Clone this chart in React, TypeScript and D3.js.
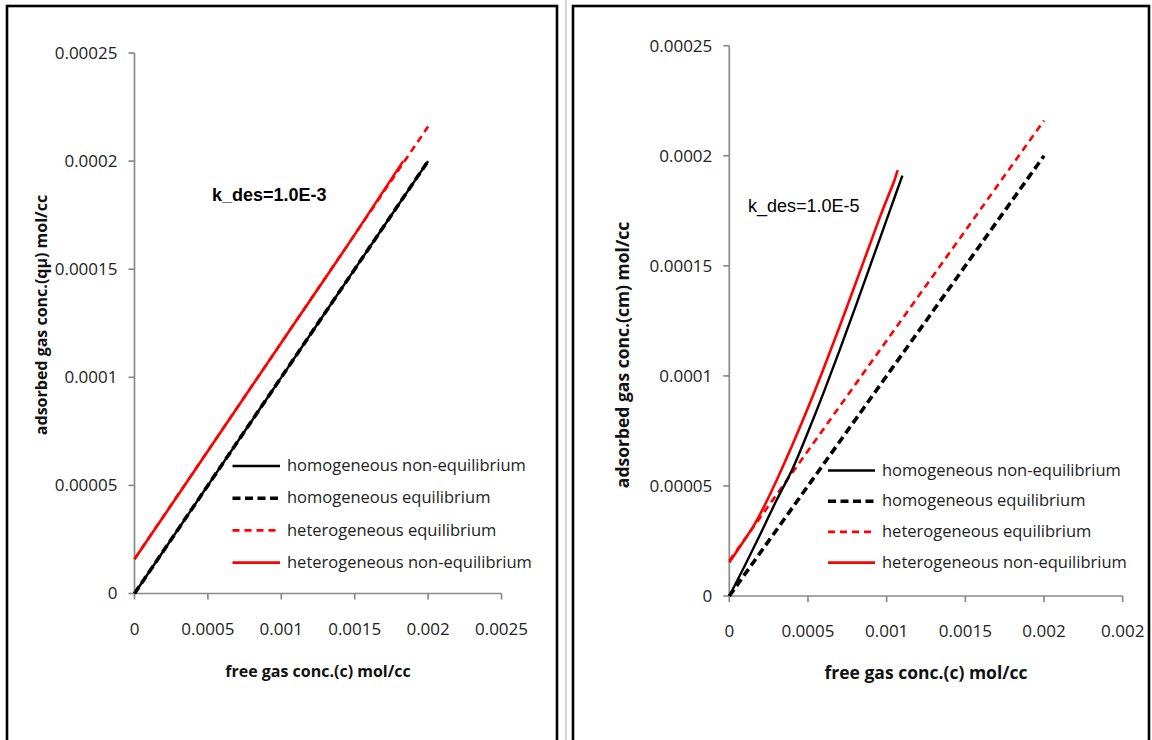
import React from "react";
import * as d3 from "d3";

// ---------- data ----------
const xTickValues = [0, 0.0005, 0.001, 0.0015, 0.002, 0.0025];
const xTickLabelsLeft = ["0", "0.0005", "0.001", "0.0015", "0.002", "0.0025"];
const xTickLabelsRight = ["0", "0.0005", "0.001", "0.0015", "0.002", "0.002"];
const yTickValues = [0, 0.00005, 0.0001, 0.00015, 0.0002, 0.00025];
const yTickLabels = ["0", "0.00005", "0.0001", "0.00015", "0.0002", "0.00025"];

const seriesNames = [
  "homogeneous non-equilibrium",
  "homogeneous equilibrium",
  "heterogeneous equilibrium",
  "heterogeneous non-equilibrium",
];

// Left panel (k_des=1.0E-3)
const leftHomNonEqX = [0, 0.0005, 0.001, 0.0015, 0.002];
const leftHomNonEqY = [0, 0.00005, 0.0001, 0.00015, 0.0002];
const leftHomEqX = [0, 0.0005, 0.001, 0.0015, 0.002];
const leftHomEqY = [0, 0.00005, 0.0001, 0.00015, 0.0002];
const leftHetEqX = [0, 0.0005, 0.001, 0.0015, 0.002];
const leftHetEqY = [0.000016, 0.000066, 0.000116, 0.000166, 0.000216];
const leftHetNonEqX = [0, 0.0005, 0.001, 0.0015, 0.00183];
const leftHetNonEqY = [0.0000158, 0.0000659, 0.000116, 0.000166, 0.0002];

// Right panel (k_des=1.0E-5)
const rightHomNonEqX = [0, 0.0001, 0.0002, 0.0003, 0.0004, 0.0005, 0.0006, 0.0007, 0.0008, 0.0009, 0.00097, 0.00103, 0.00107, 0.0011];
const rightHomNonEqY = [0, 0.000014, 0.0000285, 0.0000435, 0.0000575, 0.0000745, 0.0000925, 0.0001115, 0.000131, 0.000151, 0.000165, 0.000177, 0.000185, 0.000191];
const rightHomEqX = [0, 0.0005, 0.001, 0.0015, 0.002];
const rightHomEqY = [0, 0.00005, 0.0001, 0.00015, 0.0002];
const rightHetEqX = [0, 0.0005, 0.001, 0.0015, 0.002];
const rightHetEqY = [0.000016, 0.000066, 0.000116, 0.000166, 0.000216];
const rightHetNonEqX = [0, 0.00008, 0.00016, 0.00022, 0.0003, 0.0004, 0.0005, 0.0006, 0.0007, 0.0008, 0.0009, 0.00097, 0.00102, 0.00105, 0.00107];
const rightHetNonEqY = [0.0000152, 0.0000237, 0.0000325, 0.0000405, 0.0000525, 0.0000685, 0.0000855, 0.0001035, 0.0001222, 0.0001415, 0.000161, 0.0001745, 0.0001835, 0.000189, 0.0001935];

const FONT = "'Open Sans', 'DejaVu Sans', sans-serif";
const AXIS = "#8a8a8a";

type Style = { color: string; width: number; dash?: string };
const styles: Style[] = [
  { color: "#000", width: 2.4 },
  { color: "#000", width: 3.6, dash: "8,4.5" },
  { color: "#ff0000", width: 2.6, dash: "7,5" },
  { color: "#ff0000", width: 2.6 },
];

type PanelProps = {
  xRange: [number, number];
  yRange: [number, number];
  xLabels: string[];
  series: { x: number[]; y: number[] }[];
  drawOrder: number[];
  yTitle: string;
  yTitlePos: [number, number];
  xTitlePos: [number, number];
  kText: string;
  kPos: [number, number];
  kBold: boolean;
  legendX: [number, number, number];
  legendY0: number;
  legendStep: number;
  tickFont: number;
  titleFont: number;
  legendFont: number;
};

function Panel(p: PanelProps) {
  const x = d3.scaleLinear().domain([0, 0.0025]).range(p.xRange);
  const y = d3.scaleLinear().domain([0, 0.00025]).range(p.yRange);
  const line = d3
    .line<[number, number]>()
    .x((d) => x(d[0]))
    .y((d) => y(d[1]))
    .curve(d3.curveMonotoneX);
  const x0 = x(0);
  const y0 = y(0);
  return (
    <g>
      {/* axes */}
      <line x1={x0} x2={x0} y1={y(0.00025)} y2={y0} stroke={AXIS} strokeWidth={1.7} />
      <line x1={x0} x2={x(0.0025)} y1={y0} y2={y0} stroke={AXIS} strokeWidth={1.7} />
      {yTickValues.map((v, i) => (
        <g key={"yt" + i}>
          <line x1={x0 - 6} x2={x0} y1={y(v)} y2={y(v)} stroke={AXIS} strokeWidth={1.7} />
          <text x={x0 - 17} y={y(v)} dy="0.35em" textAnchor="end" fontFamily={FONT} fontSize={p.tickFont} fill="#222">
            {yTickLabels[i]}
          </text>
        </g>
      ))}
      {xTickValues.map((v, i) => (
        <g key={"xt" + i}>
          <line x1={x(v)} x2={x(v)} y1={y0} y2={y0 + 6} stroke={AXIS} strokeWidth={1.7} />
          <text x={x(v)} y={y0 + 41} textAnchor="middle" fontFamily={FONT} fontSize={p.tickFont} fill="#222">
            {p.xLabels[i]}
          </text>
        </g>
      ))}
      {/* series */}
      {p.drawOrder.map((si) => {
        const s = p.series[si];
        const st = styles[si];
        const pts = s.x.map((xv, j) => [xv, s.y[j]] as [number, number]);
        return (
          <path
            key={"s" + si}
            d={line(pts) || ""}
            fill="none"
            stroke={st.color}
            strokeWidth={st.width}
            strokeDasharray={st.dash}
            strokeLinejoin="round"
          />
        );
      })}
      {/* titles */}
      <text x={p.xTitlePos[0]} y={p.xTitlePos[1]} textAnchor="middle" fontFamily={FONT} fontWeight="bold" fontSize={p.titleFont} fill="#111">
        free gas conc.(c) mol/cc
      </text>
      <text
        transform={`translate(${p.yTitlePos[0]},${p.yTitlePos[1]}) rotate(-90)`}
        textAnchor="middle"
        dy="0.35em"
        fontFamily={FONT}
        fontWeight="bold"
        fontSize={p.titleFont}
        fill="#111"
      >
        {p.yTitle}
      </text>
      <text x={p.kPos[0]} y={p.kPos[1]} fontFamily="'Liberation Sans', Arial, sans-serif" fontWeight={p.kBold ? "bold" : "normal"} fontSize={18} fill="#000">
        {p.kText}
      </text>
      {/* legend */}
      {seriesNames.map((name, i) => {
        const st = styles[i];
        const ly = p.legendY0 + i * p.legendStep;
        return (
          <g key={"lg" + i}>
            <line
              x1={p.legendX[0]}
              x2={p.legendX[1]}
              y1={ly}
              y2={ly}
              stroke={st.color}
              strokeWidth={st.width}
              strokeDasharray={st.dash}
            />
            <text x={p.legendX[2]} y={ly} dy="0.32em" fontFamily={FONT} fontSize={p.legendFont} fill="#222">
              {name}
            </text>
          </g>
        );
      })}
    </g>
  );
}

export default function App() {
  const leftSeries = [
    { x: leftHomNonEqX, y: leftHomNonEqY },
    { x: leftHomEqX, y: leftHomEqY },
    { x: leftHetEqX, y: leftHetEqY },
    { x: leftHetNonEqX, y: leftHetNonEqY },
  ];
  const rightSeries = [
    { x: rightHomNonEqX, y: rightHomNonEqY },
    { x: rightHomEqX, y: rightHomEqY },
    { x: rightHetEqX, y: rightHetEqY },
    { x: rightHetNonEqX, y: rightHetNonEqY },
  ];
  return (
    <svg
      width={1152}
      height={740}
      style={{ position: "absolute", left: 0, top: 0, background: "#fff" }}
    >
      <rect x={0} y={0} width={1152} height={740} fill="#fff" />
      {/* panel borders */}
      <rect x={7} y={6} width={550} height={760} fill="none" stroke="#000" strokeWidth={2.6} />
      <line x1={566} x2={566} y1={0} y2={740} stroke="#b0b0b0" strokeWidth={1} />
      <rect x={573} y={6} width={576} height={760} fill="none" stroke="#000" strokeWidth={2.6} />
      <Panel
        xRange={[134.5, 501.5]}
        yRange={[593.5, 53]}
        xLabels={xTickLabelsLeft}
        series={leftSeries}
        drawOrder={[0, 1, 2, 3]}
        yTitle="adsorbed gas conc.(qμ) mol/cc"
        yTitlePos={[41.5, 315]}
        xTitlePos={[318, 677]}
        kText="k_des=1.0E-3"
        kPos={[212, 201]}
        kBold={true}
        legendX={[232.5, 280, 287]}
        legendY0={466}
        legendStep={32.2}
        tickFont={17}
        titleFont={16}
        legendFont={16.5}
      />
      <Panel
        xRange={[729.3, 1122.7]}
        yRange={[596, 45.7]}
        xLabels={xTickLabelsRight}
        series={rightSeries}
        drawOrder={[1, 2, 0, 3]}
        yTitle="adsorbed gas conc.(cm) mol/cc"
        yTitlePos={[623, 355]}
        xTitlePos={[926, 679]}
        kText="k_des=1.0E-5"
        kPos={[748, 211.5]}
        kBold={false}
        legendX={[828, 875, 882]}
        legendY0={470.5}
        legendStep={30.7}
        tickFont={17}
        titleFont={17.5}
        legendFont={16.5}
      />
    </svg>
  );
}
